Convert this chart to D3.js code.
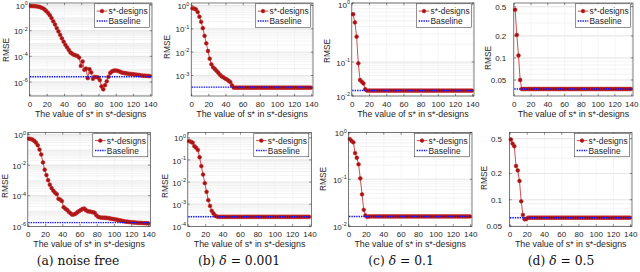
<!DOCTYPE html>
<html>
<head>
<meta charset="utf-8">
<script src="https://cdn.jsdelivr.net/npm/d3@7"></script>
<style>
body { margin: 0; background: #fff; }
svg { display: block; }
</style>
</head>
<body>
<script>

// x values of the s*-designs (every other s*)
var sStar = [1,3,5,7,9,11,13,15,17,19,21,23,25,27,29,31,33,35,37,39,
	41,43,45,47,49,51,53,55,57,59,61,63,65,67,69,71,73,75,77,79,
	81,83,85,87,89,91,93,95,97,99,101,103,105,107,109,111,113,115,117,119,
	121,123,125,127,129,131,133,135,137,139];
var baseS = [0, 140];
var xTicks = [0, 20, 40, 60, 80, 100, 120, 140];

// log10(RMSE), one array per panel
var logTopA = [-0.08,-0.08,-0.09,-0.10,-0.12,-0.15,-0.20,-0.26,-0.35,-0.48,
	-0.63,-0.80,-1.02,-1.27,-1.52,-1.80,-2.06,-2.33,-2.60,-2.86,
	-3.10,-3.30,-3.50,-3.70,-3.80,-3.88,-3.93,-3.97,-4.10,-4.75,
	-4.40,-5.05,-4.95,-5.70,-5.00,-5.25,-5.75,-5.60,-5.62,-5.65,
	-5.85,-6.35,-6.57,-6.25,-5.95,-5.60,-5.30,-5.18,-5.12,-5.10,
	-5.12,-5.16,-5.22,-5.27,-5.30,-5.32,-5.34,-5.36,-5.38,-5.39,
	-5.41,-5.43,-5.44,-5.46,-5.48,-5.50,-5.51,-5.52,-5.53,-5.54];
var logTopB = [-0.12,-0.13,-0.17,-0.28,-0.48,-0.70,-0.97,-1.30,-1.62,-1.95,
	-2.28,-2.52,-2.65,-2.72,-2.80,-2.88,-2.97,-3.04,-3.08,-3.13,
	-3.17,-3.22,-3.28,-3.42,-3.52,-3.52,-3.52,-3.52,-3.52,-3.52,
	-3.52,-3.52,-3.52,-3.52,-3.52,-3.52,-3.52,-3.52,-3.52,-3.52,
	-3.52,-3.52,-3.52,-3.52,-3.52,-3.52,-3.52,-3.52,-3.52,-3.52,
	-3.52,-3.52,-3.52,-3.52,-3.52,-3.52,-3.52,-3.52,-3.52,-3.52,
	-3.52,-3.52,-3.52,-3.52,-3.52,-3.52,-3.52,-3.52,-3.52,-3.52];
var logTopC = [-0.19,-0.33,-0.57,-1.04,-1.53,-1.58,-1.63,-1.80,-1.84,-1.84,
	-1.84,-1.84,-1.84,-1.84,-1.84,-1.84,-1.84,-1.84,-1.84,-1.84,
	-1.84,-1.84,-1.84,-1.84,-1.84,-1.84,-1.84,-1.84,-1.84,-1.84,
	-1.84,-1.84,-1.84,-1.84,-1.84,-1.84,-1.84,-1.84,-1.84,-1.84,
	-1.84,-1.84,-1.84,-1.84,-1.84,-1.84,-1.84,-1.84,-1.84,-1.84,
	-1.84,-1.84,-1.84,-1.84,-1.84,-1.84,-1.84,-1.84,-1.84,-1.84,
	-1.84,-1.84,-1.84,-1.84,-1.84,-1.84,-1.84,-1.84,-1.84,-1.84];
var logTopD = [-0.342,-0.686,-0.967,-1.301,-1.424,-1.424,-1.424,-1.424,-1.424,-1.424,
	-1.424,-1.424,-1.424,-1.424,-1.424,-1.424,-1.424,-1.424,-1.424,-1.424,
	-1.424,-1.424,-1.424,-1.424,-1.424,-1.424,-1.424,-1.424,-1.424,-1.424,
	-1.424,-1.424,-1.424,-1.424,-1.424,-1.424,-1.424,-1.424,-1.424,-1.424,
	-1.424,-1.424,-1.424,-1.424,-1.424,-1.424,-1.424,-1.424,-1.424,-1.424,
	-1.424,-1.424,-1.424,-1.424,-1.424,-1.424,-1.424,-1.424,-1.424,-1.424,
	-1.424,-1.424,-1.424,-1.424,-1.424,-1.424,-1.424,-1.424,-1.424,-1.424];
var logBotA = [-0.27,-0.29,-0.33,-0.42,-0.53,-0.70,-0.98,-1.30,-1.82,-2.30,
	-2.65,-2.98,-3.28,-3.50,-3.67,-3.80,-3.90,-4.20,-4.25,-4.35,
	-4.75,-4.85,-4.93,-5.05,-5.15,-5.24,-5.22,-5.17,-5.08,-5.00,
	-4.93,-4.86,-4.84,-4.95,-5.02,-5.03,-5.05,-5.08,-5.12,-5.28,
	-5.38,-5.42,-5.43,-5.44,-5.44,-5.45,-5.47,-5.49,-5.51,-5.53,
	-5.55,-5.57,-5.60,-5.62,-5.64,-5.67,-5.69,-5.70,-5.72,-5.73,
	-5.74,-5.75,-5.76,-5.77,-5.78,-5.78,-5.79,-5.79,-5.80,-5.80];
var logBotB = [-0.15,-0.18,-0.22,-0.38,-0.45,-0.55,-0.88,-1.28,-1.66,-2.05,
	-2.44,-2.82,-3.08,-3.30,-3.42,-3.52,-3.56,-3.57,-3.57,-3.57,
	-3.57,-3.57,-3.57,-3.57,-3.57,-3.57,-3.57,-3.57,-3.57,-3.57,
	-3.57,-3.57,-3.57,-3.57,-3.57,-3.57,-3.57,-3.57,-3.57,-3.57,
	-3.57,-3.57,-3.57,-3.57,-3.57,-3.57,-3.57,-3.57,-3.57,-3.57,
	-3.57,-3.57,-3.57,-3.57,-3.57,-3.57,-3.57,-3.57,-3.57,-3.57,
	-3.57,-3.57,-3.57,-3.57,-3.57,-3.57,-3.57,-3.57,-3.57,-3.57];
var logBotC = [-0.14,-0.18,-0.21,-0.44,-0.54,-0.68,-0.98,-1.32,-1.65,-1.77,
	-1.80,-1.79,-1.79,-1.79,-1.79,-1.79,-1.79,-1.79,-1.79,-1.79,
	-1.79,-1.79,-1.79,-1.79,-1.79,-1.79,-1.79,-1.79,-1.79,-1.79,
	-1.79,-1.79,-1.79,-1.79,-1.79,-1.79,-1.79,-1.79,-1.79,-1.79,
	-1.79,-1.79,-1.79,-1.79,-1.79,-1.79,-1.79,-1.79,-1.79,-1.79,
	-1.79,-1.79,-1.79,-1.79,-1.79,-1.79,-1.79,-1.79,-1.79,-1.79,
	-1.79,-1.79,-1.79,-1.79,-1.79,-1.79,-1.79,-1.79,-1.79,-1.79];
var logBotD = [-0.310,-0.357,-0.387,-0.614,-0.664,-0.785,-1.018,-1.174,-1.225,-1.222,
	-1.206,-1.206,-1.206,-1.206,-1.206,-1.206,-1.206,-1.206,-1.206,-1.206,
	-1.206,-1.206,-1.206,-1.206,-1.206,-1.206,-1.206,-1.206,-1.206,-1.206,
	-1.206,-1.206,-1.206,-1.206,-1.206,-1.206,-1.206,-1.206,-1.206,-1.206,
	-1.206,-1.206,-1.206,-1.206,-1.206,-1.206,-1.206,-1.206,-1.206,-1.206,
	-1.206,-1.206,-1.206,-1.206,-1.206,-1.206,-1.206,-1.206,-1.206,-1.206,
	-1.206,-1.206,-1.206,-1.206,-1.206,-1.206,-1.206,-1.206,-1.206,-1.206];

// log10(RMSE) of the baseline in each panel
var baseLog = [-5.59, -3.50, -1.84, -1.424, -5.76, -3.57, -1.79, -1.206];

// y tick values per panel
var ticksDecades6 = [1, 1e-2, 1e-4, 1e-6];
var ticksDecades3 = [1, 1e-1, 1e-2, 1e-3];
var ticksDecades4 = [1, 1e-1, 1e-2, 1e-3, 1e-4];
var ticksDecades2 = [1, 1e-1, 1e-2];
var ticksLinLog = [0.5, 0.2, 0.1, 0.05];

var legendNames = ["s*-designs", "Baseline"];
var captionLetters = ["(a)", "(b)", "(c)", "(d)"];
var captionRest = ["noise free", "= 0.001", "= 0.1", "= 0.5"];

var FONT = "'Liberation Sans', Arial, Helvetica, sans-serif";
var INK = "#262626";
var RED_LINE = "#c42222";
var RED_FILL = "#9c1414";
var RED_EDGE = "#d02626";
var BLUE = "#1010ff";

var series = [logTopA, logTopB, logTopC, logTopD, logBotA, logBotB, logBotC, logBotD];
var yTickSets = [ticksDecades6, ticksDecades3, ticksDecades2, ticksLinLog,
	ticksDecades6, ticksDecades4, ticksDecades2, ticksLinLog];

// layout of each panel (pixels)
var layout = [
	{x0: 30,    x140: 150.7, top: 3,     bottom: 96,    yDom: [1, 1e-6],      yRng: [5, 82],       ylx: 6,     yly: 50},
	{x0: 191.7, x140: 311.7, top: 3,     bottom: 96,    yDom: [1, 1e-3],      yRng: [5.5, 75.5],   ylx: 166.5, yly: 47},
	{x0: 352.3, x140: 472.7, top: 3,     bottom: 96,    yDom: [1, 0.1, 0.01], yRng: [3, 62, 96],   ylx: 327,   yly: 51},
	{x0: 514.3, x140: 631.7, top: 3,     bottom: 96,    yDom: [0.5, 0.05],    yRng: [6.7, 80],     ylx: 488,   yly: 58},
	{x0: 28.3,  x140: 149,   top: 132.5, bottom: 226.3, yDom: [1, 1e-6],      yRng: [134.6, 226.3], ylx: 5,    yly: 186},
	{x0: 188.3, x140: 310,   top: 132.5, bottom: 226.3, yDom: [1, 1e-4],      yRng: [137.8, 226.3], ylx: 165,  yly: 186},
	{x0: 349,   x140: 470.7, top: 132.5, bottom: 226.3, yDom: [1, 0.1, 0.01], yRng: [132.5, 179.3, 226.3], ylx: 323, yly: 179},
	{x0: 510,   x140: 630.7, top: 132.5, bottom: 226.3, yDom: [0.5, 0.05],    yRng: [138.7, 226],  ylx: 484,   yly: 178}
];
var captionX = [78, 239, 401, 561];

var svg = d3.select("body").append("svg")
	.attr("width", 640)
	.attr("height", 272)
	.style("font-family", FONT);

function expLabel(v){
	return String(Math.round(Math.log10(v)));
}

function DrawPanel(i){
	var L = layout[i];
	var data = series[i];
	var left = L.x0 - 0.5, right = L.x140 + 1.3;
	var x = d3.scaleLinear().domain([0, 140]).range([L.x0, L.x140]);
	var y = d3.scaleLog().domain(L.yDom).range(L.yRng);
	var g = svg.append("g");

	// plot background
	g.append("rect").attr("x", left).attr("y", L.top)
		.attr("width", right - left).attr("height", L.bottom - L.top)
		.attr("fill", "#fff");

	// minor grid (log)
	var vTop = y.invert(L.top), vBot = y.invert(L.bottom);
	var minor = [];
	for (var k = Math.floor(Math.log10(vBot)); k <= Math.ceil(Math.log10(vTop)); k++){
		for (var m = 1; m <= 9; m++){
			var v = m * Math.pow(10, k);
			if (v <= vTop && v >= vBot) minor.push(v);
		}
	}
	g.selectAll(".minor").data(minor).enter().append("line")
		.attr("x1", left).attr("x2", right)
		.attr("y1", function(d){ return y(d) }).attr("y2", function(d){ return y(d) })
		.attr("stroke", "#e6e6e6").attr("stroke-width", 0.5);
	g.selectAll(".major").data(yTickSets[i]).enter().append("line")
		.attr("x1", left).attr("x2", right)
		.attr("y1", function(d){ return y(d) }).attr("y2", function(d){ return y(d) })
		.attr("stroke", "#d8d8d8").attr("stroke-width", 0.5);
	g.selectAll(".vgrid").data(xTicks).enter().append("line")
		.attr("x1", function(d){ return x(d) }).attr("x2", function(d){ return x(d) })
		.attr("y1", L.top).attr("y2", L.bottom)
		.attr("stroke", "#ececec").attr("stroke-width", 0.5);

	// s*-designs line and markers
	var pts = sStar.map(function(s, j){ return {s: s, v: Math.pow(10, data[j])} });
	var line = d3.line().x(function(d){ return x(d.s) }).y(function(d){ return y(d.v) });
	g.append("path").datum(pts).attr("d", line)
		.attr("fill", "none").attr("stroke", RED_LINE).attr("stroke-width", 0.8);
	g.selectAll(".mk").data(pts).enter().append("circle")
		.attr("cx", function(d){ return x(d.s) })
		.attr("cy", function(d){ return y(d.v) })
		.attr("r", 1.9)
		.attr("fill", RED_FILL).attr("stroke", RED_EDGE).attr("stroke-width", 0.6);

	// baseline
	var bv = Math.pow(10, baseLog[i]);
	g.append("path").datum(baseS.map(function(s){ return {s: s, v: bv} })).attr("d", line)
		.attr("fill", "none").attr("stroke", BLUE).attr("stroke-width", 1.4)
		.attr("stroke-dasharray", "1.4,1");

	// box and ticks
	g.append("rect").attr("x", left).attr("y", L.top)
		.attr("width", right - left).attr("height", L.bottom - L.top)
		.attr("fill", "none").attr("stroke", INK).attr("stroke-width", 0.6);
	var tl = 2.2;
	xTicks.forEach(function(t){
		g.append("line").attr("x1", x(t)).attr("x2", x(t)).attr("y1", L.bottom).attr("y2", L.bottom - tl)
			.attr("stroke", INK).attr("stroke-width", 0.5);
		g.append("line").attr("x1", x(t)).attr("x2", x(t)).attr("y1", L.top).attr("y2", L.top + tl)
			.attr("stroke", INK).attr("stroke-width", 0.5);
	});
	yTickSets[i].forEach(function(t){
		g.append("line").attr("x1", left).attr("x2", left + tl).attr("y1", y(t)).attr("y2", y(t))
			.attr("stroke", INK).attr("stroke-width", 0.5);
		g.append("line").attr("x1", right).attr("x2", right - tl).attr("y1", y(t)).attr("y2", y(t))
			.attr("stroke", INK).attr("stroke-width", 0.5);
	});

	// x tick labels
	var tickBase = L.bottom + 10.7;
	g.selectAll(".xt").data(xTicks).enter().append("text")
		.attr("x", function(d){ return x(d) }).attr("y", tickBase)
		.attr("text-anchor", "middle").attr("font-size", 8).attr("fill", INK)
		.text(function(d){ return d });

	// y tick labels
	var isDecimal = (i % 4 === 3);
	yTickSets[i].forEach(function(t){
		if (isDecimal){
			g.append("text").attr("x", left - 7.5).attr("y", y(t) + 2.9)
				.attr("text-anchor", "end").attr("font-size", 8).attr("fill", INK)
				.text(t);
		} else {
			var tx = g.append("text").attr("x", left - 1.8).attr("y", Math.max(y(t) + 3.6, 8))
				.attr("text-anchor", "end").attr("font-size", 8).attr("fill", INK);
			tx.append("tspan").text("10");
			tx.append("tspan").attr("dy", -3.6).attr("font-size", 5.5).text(expLabel(t));
		}
	});

	// axis labels
	g.append("text").attr("x", (left + right) / 2).attr("y", L.bottom + 21)
		.attr("text-anchor", "middle").attr("font-size", 8.8).attr("fill", INK)
		.text("The value of s* in s*-designs");
	g.append("text").attr("transform", "translate(" + (L.ylx + 3) + "," + L.yly + ") rotate(-90)")
		.attr("text-anchor", "middle").attr("font-size", 8.3).attr("fill", INK)
		.text("RMSE");

	// legend
	var lw = 55, lh = 23.5;
	var lx = right - 2.5 - lw, ly = L.top + 0.8;
	var lg = g.append("g");
	lg.append("rect").attr("x", lx).attr("y", ly).attr("width", lw).attr("height", lh)
		.attr("fill", "#fff").attr("stroke", INK).attr("stroke-width", 0.5);
	var r1 = ly + 7.3, r2 = ly + 17.2;
	lg.append("line").attr("x1", lx + 2.2).attr("x2", lx + 12.8).attr("y1", r1).attr("y2", r1)
		.attr("stroke", RED_LINE).attr("stroke-width", 0.8);
	lg.append("circle").attr("cx", lx + 7.5).attr("cy", r1).attr("r", 1.9)
		.attr("fill", RED_FILL).attr("stroke", RED_EDGE).attr("stroke-width", 0.6);
	lg.append("line").attr("x1", lx + 2.2).attr("x2", lx + 12.8).attr("y1", r2).attr("y2", r2)
		.attr("stroke", BLUE).attr("stroke-width", 1.4).attr("stroke-dasharray", "1.4,1");
	lg.selectAll(".lt").data(legendNames).enter().append("text")
		.attr("x", lx + 14).attr("y", function(d, j){ return (j === 0 ? r1 : r2) + 3 })
		.attr("font-size", 8.4).attr("fill", INK)
		.text(function(d){ return d });
}

for (var p = 0; p < 8; p++) DrawPanel(p);

// captions
captionLetters.forEach(function(c, j){
	var t = svg.append("text").attr("x", captionX[j]).attr("y", 265)
		.attr("text-anchor", "middle")
		.style("font-family", "'DejaVu Serif', 'Liberation Serif', serif")
		.attr("font-size", 12.3).attr("fill", "#111");
	t.append("tspan").text(c + " ");
	if (j > 0){
		t.append("tspan").attr("font-style", "italic").text("\u03b4");
		t.append("tspan").text(" " + captionRest[j]);
	} else {
		t.append("tspan").text(captionRest[j]);
	}
});

</script>
</body>
</html>
